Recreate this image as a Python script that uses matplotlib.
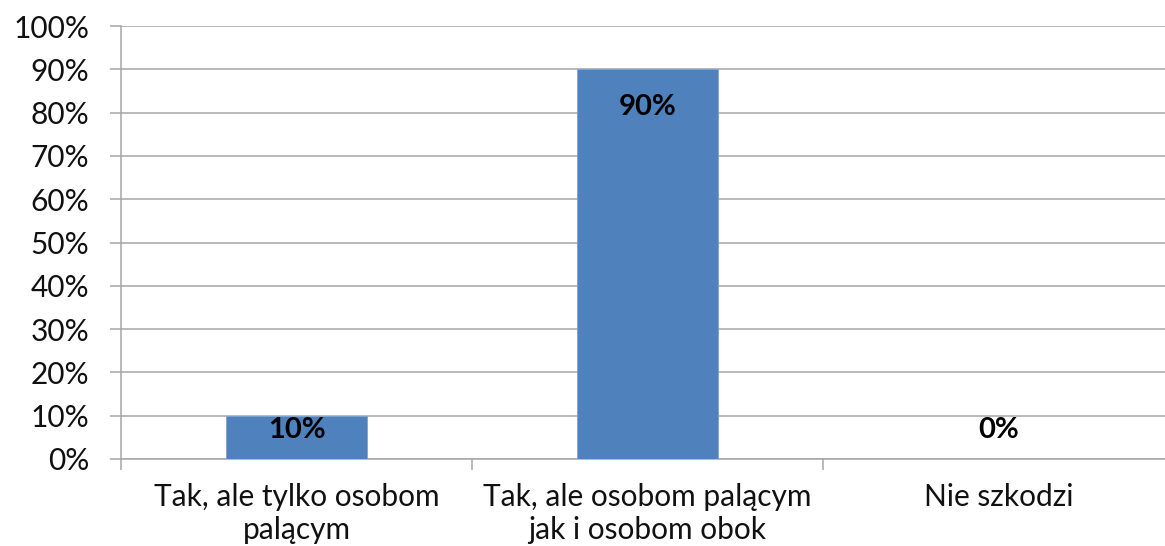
import matplotlib.pyplot as plt
from matplotlib.ticker import FuncFormatter, MultipleLocator

categories = ["Tak, ale tylko osobom\npalącym",
              "Tak, ale osobom palącym\njak i osobom obok",
              "Nie szkodzi"]
values = [10, 90, 0]

plt.rcParams['font.family'] = ['Lato', 'DejaVu Sans']

fig = plt.figure(figsize=(11.65, 5.46), dpi=100)
# axes runs slightly past the right edge, like the cropped original
ax = fig.add_axes([121 / 1165, 87 / 546, 1053 / 1165, 433 / 546])

x = range(len(values))
ax.bar(x, values, width=0.4, color="#4F81BD", edgecolor="#7FA3D0",
       linewidth=0.6, zorder=3)

for i, v in enumerate(values):
    ax.text(i, max(v - 8.7, 6.6), f"{v}%", ha="center", va="center",
            fontsize=21, fontweight="bold", color="black", zorder=4)

ax.set_xlim(-0.5, 2.5)
ax.set_ylim(0, 100)
ax.yaxis.set_major_locator(MultipleLocator(10))
ax.yaxis.set_major_formatter(FuncFormatter(lambda v, p: f"{v:.0f}%"))
ax.grid(axis="y", color="#A6A6A6", linewidth=1.1, zorder=0)

ax.set_xticks([-0.5, 0.5, 1.5, 2.5])
ax.set_xticklabels([])
ax.set_xticks(list(x), categories, minor=True)
ax.tick_params(axis="x", which="major", length=8, width=1.1, color="#A6A6A6")
ax.tick_params(axis="x", which="minor", length=0, pad=17, labelsize=21.5,
               labelcolor="#111111")
for lbl in ax.get_xticklabels(minor=True):
    lbl.set_linespacing(1.25)
ax.tick_params(axis="y", length=8, width=1.1, color="#A6A6A6", pad=15,
               labelsize=21.5, labelcolor="#111111")

for s in ["top", "right"]:
    ax.spines[s].set_visible(False)
for s in ["left", "bottom"]:
    ax.spines[s].set_color("#A6A6A6")
    ax.spines[s].set_linewidth(1.1)

fig.savefig("out.png", dpi=100)
